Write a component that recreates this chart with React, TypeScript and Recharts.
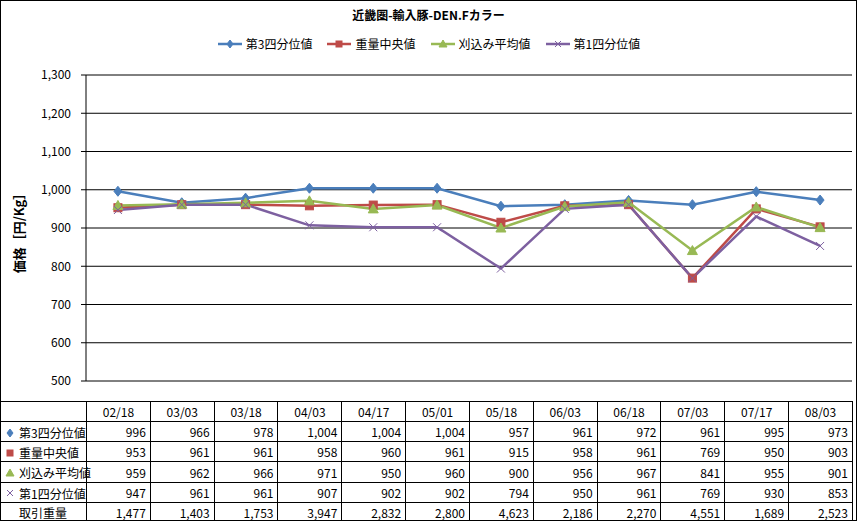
import { LineChart, Line, XAxis, YAxis, CartesianGrid } from 'recharts'

const dates = ['02/18', '03/03', '03/18', '04/03', '04/17', '05/01', '05/18', '06/03', '06/18', '07/03', '07/17', '08/03']
const q3 = [996, 966, 978, 1004, 1004, 1004, 957, 961, 972, 961, 995, 973]
const median = [953, 961, 961, 958, 960, 961, 915, 958, 961, 769, 950, 903]
const trimmed = [959, 962, 966, 971, 950, 960, 900, 956, 967, 841, 955, 901]
const q1 = [947, 961, 961, 907, 902, 902, 794, 950, 961, 769, 930, 853]
const volume = [1477, 1403, 1753, 3947, 2832, 2800, 4623, 2186, 2270, 4551, 1689, 2523]
const yTicks = [500, 600, 700, 800, 900, 1000, 1100, 1200, 1300]

const TITLE = '近畿圏-輸入豚-DEN.Fカラー'
const Y_LABEL = '価格［円/Kg］'
const VOLUME_LABEL = '取引重量'

type Shape = 'diamond' | 'square' | 'triangle' | 'cross'

const SERIES: { key: string; name: string; color: string; shape: Shape; values: number[] }[] = [
  { key: 'q3', name: '第3四分位値', color: '#4A7EBB', shape: 'diamond', values: q3 },
  { key: 'median', name: '重量中央値', color: '#BE4B48', shape: 'square', values: median },
  { key: 'trimmed', name: '刈込み平均値', color: '#98B954', shape: 'triangle', values: trimmed },
  { key: 'q1', name: '第1四分位値', color: '#7D60A0', shape: 'cross', values: q1 },
]

const data = dates.map((date, i) => {
  const row: Record<string, string | number> = { date }
  SERIES.forEach((s) => {
    row[s.key] = s.values[i]
  })
  return row
})

const FONT = '"Noto Sans CJK JP", "Noto Sans", sans-serif'
const fmt = (v: number) => v.toLocaleString('en-US')

function Marker({ shape, color, cx, cy, s = 4 }: { shape: Shape; color: string; cx: number; cy: number; s?: number }) {
  if (shape === 'diamond') {
    return <polygon points={`${cx},${cy - s - 1} ${cx + s},${cy} ${cx},${cy + s + 1} ${cx - s},${cy}`} fill={color} stroke={color} />
  }
  if (shape === 'square') {
    return <rect x={cx - s} y={cy - s} width={s * 2} height={s * 2} fill={color} stroke={color} />
  }
  if (shape === 'triangle') {
    return <polygon points={`${cx},${cy - s - 1} ${cx + s + 1},${cy + s} ${cx - s - 1},${cy + s}`} fill={color} stroke={color} />
  }
  return (
    <g stroke={color} strokeWidth={1}>
      <line x1={cx - s} y1={cy - s} x2={cx + s} y2={cy + s} />
      <line x1={cx - s} y1={cy + s} x2={cx + s} y2={cy - s} />
    </g>
  )
}

const COL0 = 86
const COLW = (852 - COL0) / dates.length
const ROWH = 20
const TABLE_TOP = 401

const cellBorder = '1px solid #000'

export default function App() {
  return (
    <div
      style={{
        position: 'absolute',
        left: 0,
        top: 0,
        width: 857,
        height: 521,
        background: '#fff',
        fontFamily: FONT,
        color: '#000',
      }}
    >
      {/* outer frame */}
      <div style={{ position: 'absolute', left: 0, top: 0, width: 855, height: 519, border: '1px solid #000' }} />

      {/* title */}
      <div style={{ position: 'absolute', left: 0, top: 6, width: 857, textAlign: 'center', fontSize: 12, fontWeight: 'bold' }}>
        {TITLE}
      </div>

      {/* legend */}
      <div style={{ position: 'absolute', left: 0, top: 35, width: 857, display: 'flex', justifyContent: 'center', gap: 14, fontSize: 12 }}>
        {SERIES.map((s) => (
          <div key={s.key} style={{ display: 'flex', alignItems: 'center', gap: 3 }}>
            <svg width={26} height={12}>
              <line x1={1} y1={6} x2={25} y2={6} stroke={s.color} strokeWidth={2.5} />
              <Marker shape={s.shape} color={s.color} cx={13} cy={6} s={3} />
            </svg>
            <span>{s.name}</span>
          </div>
        ))}
      </div>

      {/* y axis title */}
      <div
        style={{
          position: 'absolute',
          left: 18,
          top: 230,
          transform: 'translate(-50%, -50%) rotate(-90deg)',
          whiteSpace: 'nowrap',
          fontSize: 13,
          fontWeight: 'bold',
        }}
      >
        {Y_LABEL}
      </div>

      <div style={{ position: 'absolute', left: 0, top: 0 }}>
        <LineChart width={857} height={400} data={data} margin={{ top: 75, right: 5, bottom: 19, left: 0 }}>
          <CartesianGrid vertical={false} stroke="#000" strokeWidth={1} />
          <XAxis dataKey="date" hide scale="band" />
          <YAxis
            width={86}
            domain={[500, 1300]}
            ticks={yTicks}
            tickFormatter={fmt}
            tick={{ fill: '#000', fontSize: 12, fontFamily: FONT }}
            axisLine={{ stroke: '#000' }}
            tickLine={{ stroke: '#000' }}
            tickSize={5}
            tickMargin={10}
            interval={0}
          />
          {SERIES.map((s) => (
            <Line
              key={s.key}
              dataKey={s.key}
              name={s.name}
              stroke={s.color}
              strokeWidth={2.5}
              isAnimationActive={false}
              dot={(p: any) => <Marker key={`${s.key}-${p.index}`} shape={s.shape} color={s.color} cx={p.cx} cy={p.cy} />}
              activeDot={false}
            />
          ))}
        </LineChart>
      </div>

      {/* data table */}
      <table
        style={{
          position: 'absolute',
          left: 0,
          top: TABLE_TOP,
          borderCollapse: 'collapse',
          tableLayout: 'fixed',
          width: 852,
          fontSize: 12,
          fontFamily: FONT,
        }}
      >
        <colgroup>
          <col style={{ width: COL0 }} />
          {dates.map((d) => (
            <col key={d} style={{ width: COLW }} />
          ))}
        </colgroup>
        <tbody>
          <tr style={{ height: ROWH }}>
            <td style={{ border: cellBorder, padding: 0 }} />
            {dates.map((d) => (
              <td key={d} style={{ border: cellBorder, padding: 0, textAlign: 'center' }}>
                {d}
              </td>
            ))}
          </tr>
          {SERIES.map((s) => (
            <tr key={s.key} style={{ height: ROWH }}>
              <td style={{ border: cellBorder, padding: '0 0 0 3px', whiteSpace: 'nowrap' }}>
                <svg width={12} height={10} style={{ verticalAlign: 'middle', marginRight: 3 }}>
                  <Marker shape={s.shape} color={s.color} cx={6} cy={5} s={3} />
                </svg>
                <span style={{ verticalAlign: 'middle' }}>{s.name}</span>
              </td>
              {s.values.map((v, i) => (
                <td key={i} style={{ border: cellBorder, padding: '0 4px 0 0', textAlign: 'right' }}>
                  {fmt(v)}
                </td>
              ))}
            </tr>
          ))}
          <tr style={{ height: ROWH }}>
            <td style={{ border: cellBorder, padding: '0 0 0 18px', whiteSpace: 'nowrap' }}>{VOLUME_LABEL}</td>
            {volume.map((v, i) => (
              <td key={i} style={{ border: cellBorder, padding: '0 4px 0 0', textAlign: 'right' }}>
                {fmt(v)}
              </td>
            ))}
          </tr>
        </tbody>
      </table>
    </div>
  )
}
